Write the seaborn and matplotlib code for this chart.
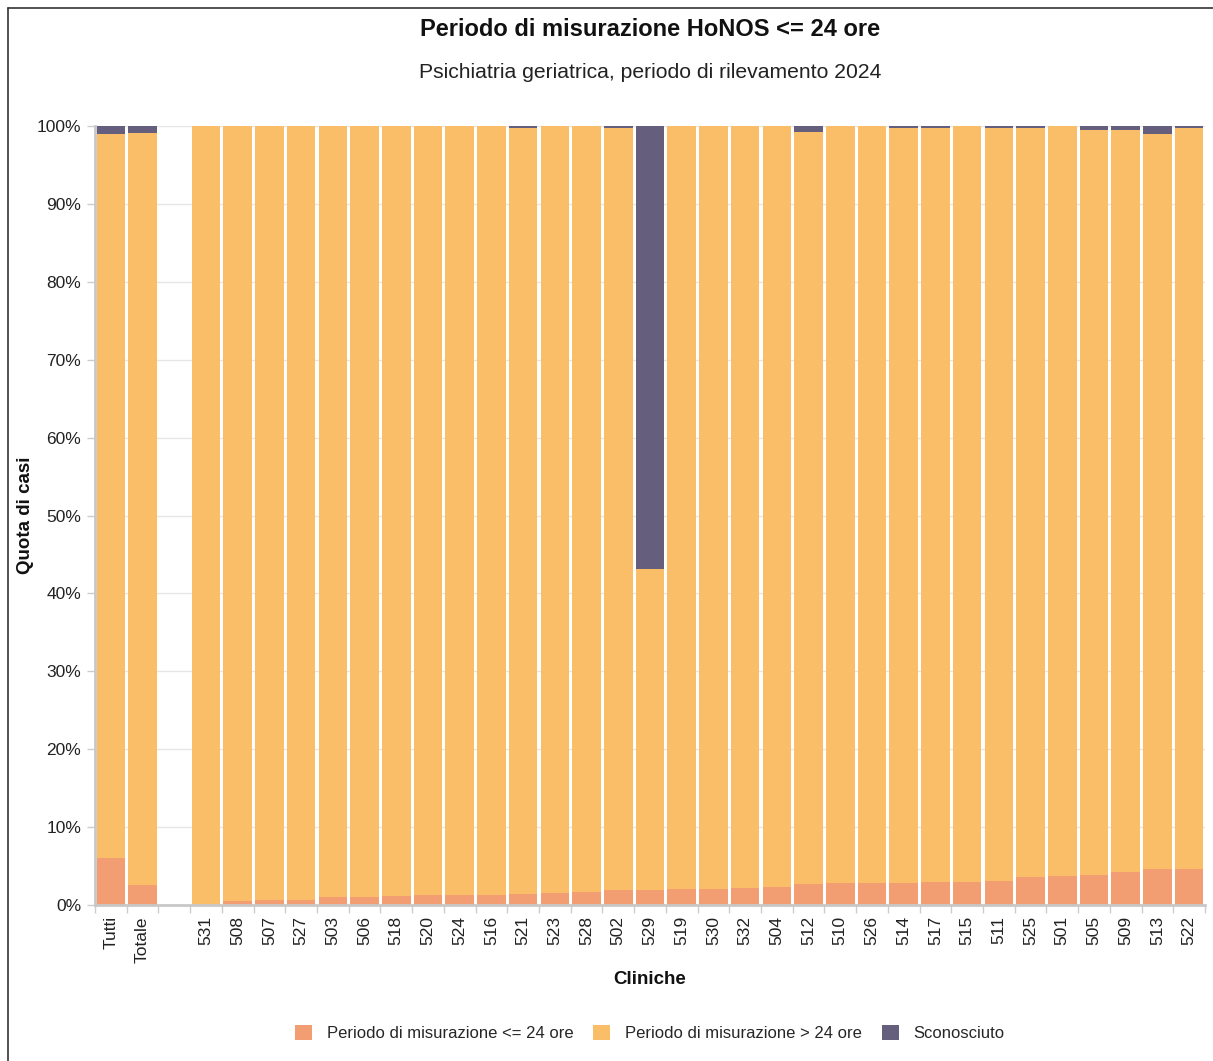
import numpy as np
import pandas as pd
import matplotlib
matplotlib.use("Agg")
import matplotlib.pyplot as plt
import seaborn as sns
from matplotlib.patches import Patch
from matplotlib.lines import Line2D

categories = ["Tutti", "Totale", "", "531", "508", "507", "527", "503", "506", "518", "520",
              "524", "516", "521", "523", "528", "502", "529", "519", "530", "532", "504",
              "512", "510", "526", "514", "517", "515", "511", "525", "501", "505", "509",
              "513", "522"]
le24 = [6.0, 2.6, 0.0, 0.0, 0.5, 0.7, 0.7, 1.0, 1.0, 1.2, 1.3,
        1.3, 1.3, 1.4, 1.5, 1.7, 1.9, 1.9, 2.0, 2.0, 2.2, 2.3,
        2.7, 2.8, 2.8, 2.8, 2.9, 2.9, 3.1, 3.6, 3.7, 3.9, 4.3,
        4.6, 4.6]
unknown = [1.0, 0.9, 0.0, 0.0, 0.0, 0.0, 0.0, 0.0, 0.0, 0.0, 0.0,
           0.0, 0.0, 0.3, 0.0, 0.0, 0.3, 56.9, 0.0, 0.0, 0.0, 0.0,
           0.8, 0.0, 0.0, 0.2, 0.2, 0.0, 0.3, 0.3, 0.0, 0.5, 0.5,
           1.0, 0.3]
is_blank = [c == "" for c in categories]
gt24 = [0.0 if b else 100.0 - a - u for a, u, b in zip(le24, unknown, is_blank)]

series_names = ["Periodo di misurazione <= 24 ore", "Periodo di misurazione > 24 ore", "Sconosciuto"]
colors = ["#F39D72", "#FABE69", "#655E7D"]

sns.set_theme(style="white")
plt.rcParams['font.family'] = ['Liberation Sans', 'DejaVu Sans']

df = pd.DataFrame({"cat": categories, "le24": le24, "gt24": gt24, "unk": unknown})
df["b2"] = df["le24"]
df["b3"] = df["le24"] + df["gt24"]

fig = plt.figure(figsize=(12.13, 10.61), dpi=100)
ax = fig.add_axes([95/1213, 1 - 905/1061, 1110/1213, 779/1061])

w = 0.9
sns.barplot(data=df, x="cat", y="le24", order=categories, color=colors[0], width=w,
            ax=ax, linewidth=0, saturation=1)
sns.barplot(data=df, x="cat", y="gt24", order=categories, color=colors[1], width=w,
            ax=ax, linewidth=0, saturation=1, bottom=df["b2"].values)
sns.barplot(data=df, x="cat", y="unk", order=categories, color=colors[2], width=w,
            ax=ax, linewidth=0, saturation=1, bottom=df["b3"].values)

ax.set_ylim(0, 100)
ax.set_xlim(-0.5, len(categories) - 0.5)
ax.set_yticks(np.arange(0, 101, 10))
ax.set_yticklabels([f"{v}%" for v in range(0, 101, 10)], fontsize=12.5, color="#222222")
ax.yaxis.grid(True, color="#E6E6E6", linewidth=1)
ax.set_axisbelow(True)
ax.tick_params(axis="y", length=6, width=1, color="#CCCCCC", pad=4, left=True)

ax.set_xticks(range(len(categories)))
ax.set_xticklabels(categories, rotation=90, fontsize=12.5, color="#222222")
ax.tick_params(axis="x", which="major", length=0, pad=8)
ax.set_xticks(np.arange(-0.5, len(categories), 1.0), minor=True)
ax.tick_params(axis="x", which="minor", length=6, width=1, color="#CCCCCC", bottom=True)

for s in ["top", "right"]:
    ax.spines[s].set_visible(False)
for s in ["left", "bottom"]:
    ax.spines[s].set_color("#C8C8C8")
    ax.spines[s].set_linewidth(2)

ax.set_xlabel("Cliniche", fontsize=13.5, fontweight="bold", labelpad=6, color="#111111")
ax.set_ylabel("Quota di casi", fontsize=13.5, fontweight="bold", labelpad=2, color="#111111")

fig.text(650/1213, 1 - 30/1061, "Periodo di misurazione HoNOS <= 24 ore", ha="center", va="center",
         fontsize=17, fontweight="bold", color="#111111")
fig.text(650/1213, 1 - 72/1061, "Psichiatria geriatrica, periodo di rilevamento 2024", ha="center",
         va="center", fontsize=15.2, color="#222222")

handles = [Patch(facecolor=c, edgecolor="none") for c in colors]
fig.legend(handles, series_names, loc="center", bbox_to_anchor=(650/1213, 1 - 1033/1061),
           ncol=3, frameon=False, fontsize=12, handlelength=1.0, handleheight=1.0,
           columnspacing=1.2, handletextpad=0.9)

# outer frame lines (left and top)
fig.add_artist(Line2D([8/1213, 8/1213], [0, 1 - 8/1061], transform=fig.transFigure, color="#333333", linewidth=1.2))
fig.add_artist(Line2D([8/1213, 1], [1 - 8/1061, 1 - 8/1061], transform=fig.transFigure, color="#333333", linewidth=1.2))

fig.savefig("out.png", dpi=100)
